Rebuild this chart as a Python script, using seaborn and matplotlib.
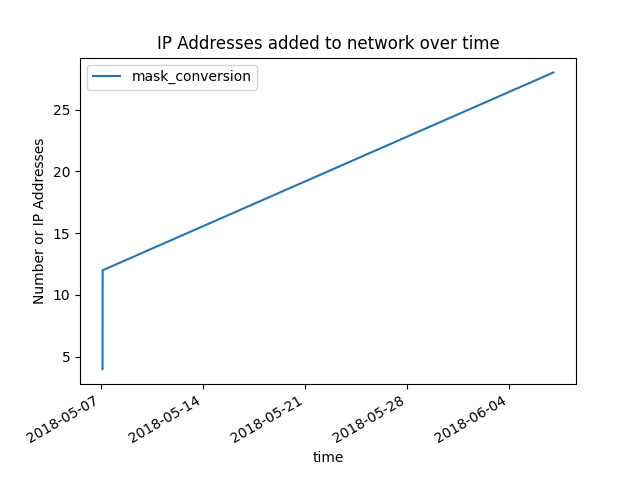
import matplotlib
matplotlib.use("Agg")
import matplotlib.pyplot as plt
import matplotlib.dates as mdates
import seaborn as sns
import pandas as pd

times = ["2018-05-07 03:00", "2018-05-07 03:10", "2018-06-07 02:00"]
counts = [4, 12, 28]

df = pd.DataFrame({"time": pd.to_datetime(times), "mask_conversion": counts})

fig, ax = plt.subplots(figsize=(6.4, 4.8), dpi=100)
sns.lineplot(data=df, x="time", y="mask_conversion", ax=ax, estimator=None,
             sort=False, label="mask_conversion", color="#1f77b4")
ax.set_title("IP Addresses added to network over time")
ax.set_ylabel("Number or IP Addresses")
ax.set_xlabel("time")
ax.xaxis.set_major_locator(mdates.WeekdayLocator(byweekday=mdates.MO))
ax.xaxis.set_major_formatter(mdates.DateFormatter("%Y-%m-%d"))
ax.legend(loc="upper left")
fig.autofmt_xdate()
fig.savefig("out.png", dpi=100)
